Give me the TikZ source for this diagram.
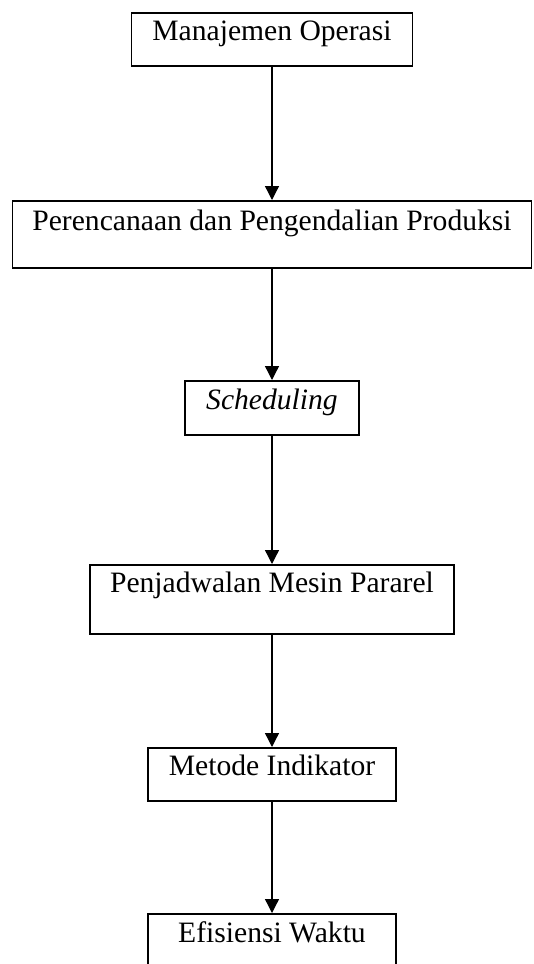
\documentclass[tikz,border=0pt]{standalone}
\usepackage{fontspec}
\setmainfont{Liberation Serif}
\usetikzlibrary{arrows.meta}
\begin{document}
\begin{tikzpicture}[x=1pt,y=-1pt,
  box/.style={draw=black, line width=1.8pt, inner sep=0pt, anchor=north,
    font=\fontsize{29.6}{34}\selectfont, align=center},
  conn/.style={line width=1.3pt, -{Triangle[length=14pt,width=14pt]}}]
\clip (0,0) rectangle (533,964);
\useasboundingbox (0,0) rectangle (533,964);
\node[box, minimum width=281pt, text height=28pt, text depth=25pt] (b1) at (272,12) {Manajemen Operasi};
\node[box, minimum width=519pt, text height=30pt, text depth=37pt] (b2) at (272,200) {Perencanaan dan Pengendalian Produksi};
\node[box, minimum width=174pt, text height=29pt, text depth=25pt] (b3) at (272,380) {\itshape Scheduling};
\node[box, minimum width=364pt, text height=28pt, text depth=41pt] (b4) at (272,564) {Penjadwalan Mesin Pararel};
\node[box, minimum width=248pt, text height=28pt, text depth=25pt] (b5) at (272,747) {Metode Indikator};
\node[box, minimum width=248pt, text height=29pt, text depth=35pt] (b6) at (272,913) {Efisiensi Waktu};
\draw[conn] (b1.south) -- (b2.north);
\draw[conn] (b2.south) -- (b3.north);
\draw[conn] (b3.south) -- (b4.north);
\draw[conn] (b4.south) -- (b5.north);
\draw[conn] (b5.south) -- (b6.north);
\end{tikzpicture}
\end{document}
